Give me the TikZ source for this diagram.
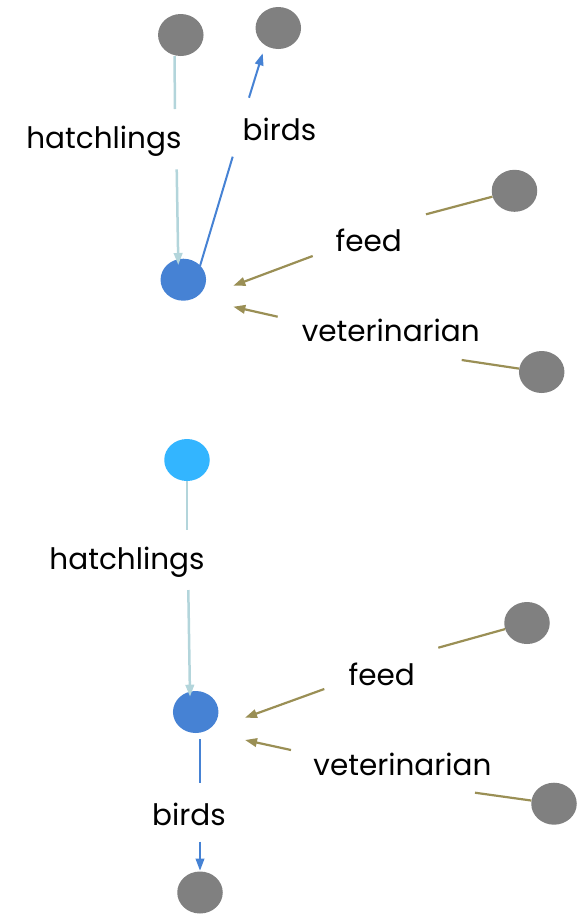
\documentclass[tikz,border=0pt]{standalone}
\usepackage{fontspec}
\setmainfont{Poppins}
\usetikzlibrary{shapes.geometric,arrows.meta}
\definecolor{gnode}{HTML}{808080}
\definecolor{bnode}{HTML}{4682D4}
\definecolor{cnode}{HTML}{33B5FF}
\definecolor{hatchc}{HTML}{B3D5DB}
\definecolor{olivec}{HTML}{9A8F55}
\tikzset{
  vtx/.style={ellipse, minimum width=45.5pt, minimum height=42pt, inner sep=0pt, draw=none},
  gv/.style={vtx, fill=gnode},
  bv/.style={vtx, fill=bnode},
  cv/.style={vtx, fill=cnode},
  lbl/.style={anchor=base, inner sep=0pt, font=\fontsize{29.5}{34}\selectfont, text=black},
  hatchE/.style={draw=hatchc, line width=2.5pt},
  birdE/.style={draw=bnode, line width=2pt},
  oliveE/.style={draw=olivec, line width=2.2pt},
  tip/.style={-{Triangle[length=12pt,width=8.5pt]}},
}
\begin{document}
\begin{tikzpicture}[x=1pt,y=-1pt]
\useasboundingbox (0,0) rectangle (579,914);
% top graph nodes
\node[gv] (G1) at (180.8,35) {};
\node[gv] (G2) at (278.3,28) {};
\node[bv] (B1) at (183.3,279.7) {};
\node[gv] (G3) at (514.5,190.8) {};
\node[gv] (G4) at (541.7,372) {};
% bottom graph nodes
\node[cv] (C)  at (187,460) {};
\node[bv] (B2) at (195.7,712) {};
\node[gv] (G5) at (527,623) {};
\node[gv] (G6) at (554,803.7) {};
\node[gv] (G7) at (200,892.5) {};
% labels
\node[lbl] (lh1) at (103.9,148.3) {hatchlings};
\node[lbl] (lb1) at (279.5,140) {birds};
\node[lbl] (lf1) at (368.8,251.7) {feed};
\node[lbl] (lv1) at (390.8,341.7) {veterinarian};
\node[lbl] (lh2) at (127,569.5) {hatchlings};
\node[lbl] (lf2) at (381.7,685) {feed};
\node[lbl] (lv2) at (402.5,775) {veterinarian};
\node[lbl] (lb2) at (189,825) {birds};
% connector break points and tips
\coordinate (h1a) at (175,109);   \coordinate (h1b) at (176.7,169.3); \coordinate (h1t) at (178.3,265);
\coordinate (b1s) at (200,266);   \coordinate (b1a) at (232.7,156.7); \coordinate (b1b) at (249,97.7); \coordinate (b1t) at (262.7,53.3);
\coordinate (f1a) at (426,214.3); \coordinate (f1b) at (312.7,256);   \coordinate (f1t) at (233.3,285.7);
\coordinate (v1a) at (461.7,360); \coordinate (v1b) at (277.7,316.7); \coordinate (v1t) at (233.3,306.7);
\coordinate (h2a) at (187,530);   \coordinate (h2b) at (188.3,590);   \coordinate (h2t) at (190,696.7);
\coordinate (b2s) at (200,739.3); \coordinate (b2a) at (200,783.3);   \coordinate (b2b) at (200,841.7); \coordinate (b2t) at (200,870.7);
\coordinate (f2a) at (438.3,647.7); \coordinate (f2b) at (324.3,689); \coordinate (f2t) at (245,717.7);
\coordinate (v2a) at (475,792.7); \coordinate (v2b) at (291,750);     \coordinate (v2t) at (245,740);
% top connectors
\draw[hatchE] ([xshift=-6.3pt]G1.south) -- (h1a);
\draw[hatchE,tip] (h1b) -- (h1t);
\draw[birdE] (b1s) -- (b1a);
\draw[birdE,tip] (b1b) -- (b1t);
\draw[oliveE] (G3) -- (f1a);
\draw[oliveE,tip] (f1b) -- (f1t);
\draw[oliveE] (G4) -- (v1a);
\draw[oliveE,tip] (v1b) -- (v1t);
% bottom connectors
\draw[hatchE] (C) -- (h2a);
\draw[hatchE,tip] (h2b) -- (h2t);
\draw[birdE] (b2s) -- (b2a);
\draw[birdE,tip] (b2b) -- (b2t);
\draw[oliveE] (G5) -- (f2a);
\draw[oliveE,tip] (f2b) -- (f2t);
\draw[oliveE] (G6) -- (v2a);
\draw[oliveE,tip] (v2b) -- (v2t);
\end{tikzpicture}
\end{document}
